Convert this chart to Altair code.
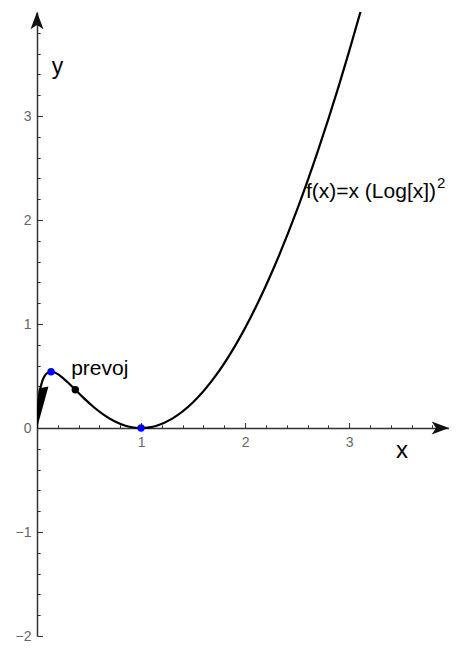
import altair as alt
import pandas as pd

# ---- data ----
curve_x = [0.0, 0.0005, 0.002, 0.005, 0.01, 0.02, 0.03, 0.05, 0.07, 0.1, 0.135, 0.17, 0.2, 0.25,
           0.3, 0.37, 0.45, 0.55, 0.65, 0.75, 0.85, 0.93, 1.0, 1.08, 1.15, 1.3, 1.5, 1.7, 1.9,
           2.1, 2.3, 2.5, 2.7, 2.9, 3.0, 3.12]
curve_y = [0.0, 0.029, 0.077, 0.140, 0.212, 0.306, 0.369, 0.449, 0.495, 0.530, 0.541, 0.534, 0.518, 0.480,
           0.435, 0.366, 0.287, 0.197, 0.121, 0.062, 0.022, 0.005, 0.0, 0.006, 0.022, 0.090, 0.247, 0.479, 0.783,
           1.156, 1.596, 2.099, 2.664, 3.287, 3.621, 4.039]

point_x = [0.135, 0.368, 1.0]
point_y = [0.541, 0.368, 0.0]
point_color = ["#0000ff", "#000000", "#0000ff"]

wedge_x = [0.0, 0.016, 0.11]
wedge_top = [0.0, 0.38, 0.40]
wedge_bottom = [0.0, 0.058, 0.40]

arrow_x = [0.0, 3.96]
arrow_y = [4.0, 0.0]
arrow_angle = [0, 90]

label_text = ["prevoj", "f(x)=x (Log[x])", "y", "x"]
label_x = [0.328, 2.585, 0.142, 3.45]
label_y = [0.511, 2.216, 3.40, -0.286]
label_size = [21, 21, 23, 24]

sup_text = ["2"]
sup_x = [2.585]
sup_y = [2.31]

x_major = [1, 2, 3]
y_major = [-2, -1, 0, 1, 2, 3]
x_minor = [0.2, 0.4, 0.6, 0.8, 1.2, 1.4, 1.6, 1.8, 2.2, 2.4, 2.6, 2.8, 3.2, 3.4, 3.6, 3.8]
y_minor = [-1.8, -1.6, -1.4, -1.2, -0.8, -0.6, -0.4, -0.2, 0.2, 0.4, 0.6, 0.8, 1.2, 1.4, 1.6, 1.8,
           2.2, 2.4, 2.6, 2.8, 3.2, 3.4, 3.6, 3.8]

X_DOMAIN = [0, 3.96]
Y_DOMAIN = [-2, 4]
W, H = 412, 624
FONT = "Liberation Sans"
AX = "#333333"

curve_df = pd.DataFrame({"x": curve_x, "y": curve_y})
point_df = pd.DataFrame({"x": point_x, "y": point_y, "c": point_color})
wedge_df = pd.DataFrame({"x": wedge_x, "y": wedge_top, "y2": wedge_bottom})
arrow_df = pd.DataFrame({"x": arrow_x, "y": arrow_y, "a": arrow_angle})
label_df = pd.DataFrame({"x": label_x, "y": label_y, "t": label_text, "s": label_size})
sup_df = pd.DataFrame({"x": sup_x, "y": sup_y, "t": sup_text})

xs = alt.Scale(domain=X_DOMAIN, nice=False, zero=False)
ys = alt.Scale(domain=Y_DOMAIN, nice=False, zero=False)

# axes
x_axis_major = alt.Axis(orient="top", offset=-(H * 4 / 6), values=x_major, tickSize=5.5, tickWidth=1,
                        tickColor=AX, labels=False, domain=True, domainColor=AX, domainWidth=1.5,
                        grid=False)
x_axis_minor = alt.Axis(orient="top", offset=-(H * 4 / 6), values=x_minor, tickSize=3.2, tickWidth=1,
                        tickColor=AX, labels=False, domain=False, grid=False)
x_axis_labels = alt.Axis(orient="bottom", offset=-(H * 2 / 6), values=x_major, ticks=False, tickSize=0,
                         labels=True, labelPadding=7, labelFontSize=14, labelColor="#666666",
                         labelFont=FONT, domain=False, grid=False)
y_axis_labels = alt.Axis(orient="left", values=y_major, ticks=False, tickSize=0, labelPadding=6,
                         labelFontSize=14, labelColor="#666666", labelFont=FONT, domain=True,
                         domainColor=AX, domainWidth=1.5, grid=False)
y_axis_major = alt.Axis(orient="right", offset=-W, values=y_major, tickSize=5.5, tickWidth=1,
                        tickColor=AX, labels=False, domain=False, grid=False)
y_axis_minor = alt.Axis(orient="right", offset=-W, values=y_minor, tickSize=3.2, tickWidth=1,
                        tickColor=AX, labels=False, domain=False, grid=False)

wedge = alt.Chart(wedge_df).mark_area(color="black", opacity=1).encode(
    x=alt.X("x:Q", scale=xs, axis=x_axis_major, title=""),
    y=alt.Y("y:Q", scale=ys, axis=y_axis_labels, title=""),
    y2="y2:Q",
)

curve = alt.Chart(curve_df).mark_line(color="black", strokeWidth=2.2, clip=True,
                                      interpolate="monotone").encode(
    x=alt.X("x:Q", scale=xs, axis=x_axis_minor, title=""),
    y=alt.Y("y:Q", scale=ys, axis=y_axis_major, title=""),
)

points = alt.Chart(point_df).mark_circle(size=55, opacity=1).encode(
    x=alt.X("x:Q", scale=xs, axis=x_axis_labels, title=""),
    y=alt.Y("y:Q", scale=ys, axis=y_axis_minor, title=""),
    color=alt.Color("c:N", scale=None),
)

arrows = alt.Chart(arrow_df).mark_point(
    shape="M0,0L0.75,2L0,1.5L-0.75,2Z", size=300, filled=True, color="#111111", opacity=1, strokeWidth=0
).encode(
    x=alt.X("x:Q", scale=xs, axis=None),
    y=alt.Y("y:Q", scale=ys, axis=None),
    angle=alt.Angle("a:Q", scale=None),
)

labels = alt.Chart(label_df).mark_text(align="left", baseline="alphabetic", font=FONT,
                                       color="black").encode(
    x=alt.X("x:Q", scale=xs, axis=None),
    y=alt.Y("y:Q", scale=ys, axis=None),
    text="t:N",
    size=alt.Size("s:Q", scale=None),
)

sup = alt.Chart(sup_df).mark_text(align="left", baseline="alphabetic", font=FONT, fontSize=15,
                                  color="black", dx=131).encode(
    x=alt.X("x:Q", scale=xs, axis=None),
    y=alt.Y("y:Q", scale=ys, axis=None),
    text="t:N",
)

chart = alt.layer(wedge, curve, points, arrows, labels, sup).resolve_axis(
    x="independent", y="independent"
).properties(
    width=W, height=H,
    padding={"left": 29, "top": 4, "right": 0, "bottom": 8},
    autosize=alt.AutoSizeParams(type="none"),
).configure_view(stroke=None)

chart.save("out.html", embed_options={"renderer": "svg", "actions": False})
